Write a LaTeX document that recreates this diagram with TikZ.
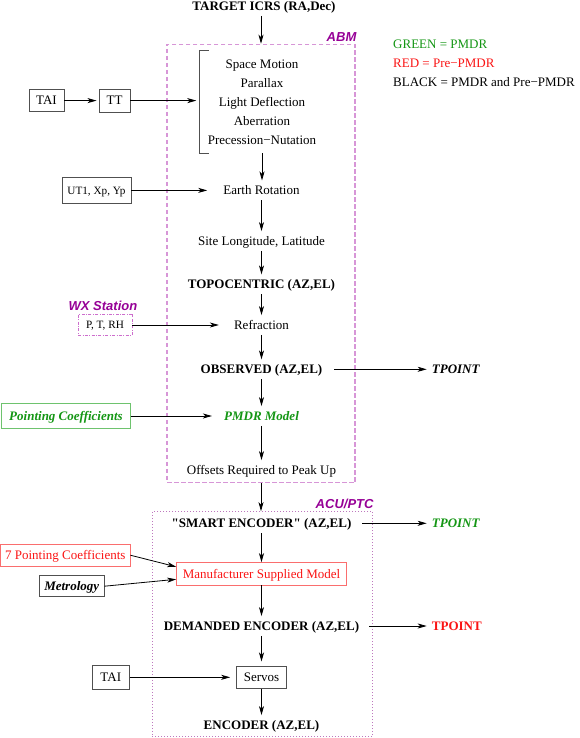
\documentclass[tikz,border=0pt]{standalone}
\usepackage{fontspec}
\setmainfont[Ligatures=TeXOff]{Liberation Serif}
\setsansfont{Liberation Sans}
\usetikzlibrary{arrows.meta}
\definecolor{pgreen}{RGB}{20,150,20}
\definecolor{pgreenbd}{RGB}{110,195,110}
\definecolor{pred}{RGB}{250,20,20}
\definecolor{predbd}{RGB}{250,110,110}
\definecolor{ppurple}{RGB}{150,0,150}
\definecolor{abmcol}{RGB}{215,150,215}
\definecolor{acucol}{RGB}{190,120,190}
\definecolor{ptcol}{RGB}{205,110,205}
\definecolor{boxcol}{RGB}{80,80,80}
\newcommand\nf{\fontsize{13}{19}\selectfont}
\newcommand\smf{\fontsize{11.2}{13}\selectfont}
\begin{document}
\begin{tikzpicture}[x=1pt,y=-1pt,
 every node/.style={font=\nf},
 txt/.style={inner xsep=3pt, inner ysep=5.4pt, text height=8.6pt, text depth=0pt},
 bold/.style={font=\nf\bfseries},
 bolditalic/.style={font=\nf\bfseries\itshape},
 bx/.style={draw=boxcol, line width=0.9pt, inner sep=0pt, text height=8.6pt, text depth=0pt},
 smallbx/.style={bx, font=\smf, text height=7.4pt},
 arr/.style={-{Stealth[length=9pt,width=5pt,inset=2.5pt]}, line width=0.8pt},
 lab/.style={font=\sffamily\bfseries\itshape\fontsize{13}{15}\selectfont, text=ppurple, inner sep=0pt},
 legend/.style={anchor=base west, inner sep=0pt},
 tpoint/.style={txt, anchor=west, inner xsep=0pt}
]
\useasboundingbox (0,0) rectangle (580,738);

% group frames
\node[draw=abmcol, line width=1.1pt, dash pattern=on 4.5pt off 2.5pt, minimum width=188pt, minimum height=438.4pt, inner sep=0pt] (abm) at (261,263.5) {};
\node[draw=acucol, line width=1pt, dash pattern=on 1pt off 2pt, minimum width=220.4pt, minimum height=225pt, inner sep=0pt] (acu) at (262.5,624.2) {};
\node[lab, anchor=base east] (abmlab) at ([xshift=1pt,yshift=2.3pt]abm.north east) {ABM};
\node[lab, anchor=base east] (aculab) at ([xshift=0.5pt,yshift=3pt]acu.north east) {ACU/PTC};

% legend
\node[legend, text=pgreen] (lg1) at (393,48.3) {GREEN = PMDR};
\node[legend, text=pred] (lg2) at (393,67.3) {RED = Pre−PMDR};
\node[legend] (lg3) at (393,86.3) {BLACK = PMDR and Pre−PMDR};

% top
\node[txt, bold] (target) at (264,6) {TARGET ICRS (RA,Dec)};
\draw[arr] (abm.north |- target.south) -- (abm.north);

\node[align=center, inner sep=0pt, minimum width=125pt, minimum height=102.3pt] (cel) at (262,101.9)
  {Space Motion\\Parallax\\Light Deflection\\Aberration\\Precession−Nutation};
\draw[line width=0.9pt, draw=boxcol] ([xshift=9.5pt]cel.north west) -- (cel.north west) -- (cel.south west) -- ([xshift=9.5pt]cel.south west);

\node[bx, minimum width=35pt, minimum height=22pt] (tai1) at (46.5,100.6) {TAI};
\node[bx, minimum width=31pt, minimum height=23pt] (tt) at (114.5,100.6) {TT};
\draw[arr, shorten >=2pt] (tai1) -- (tt);
\draw[arr, shorten >=3pt] (tt.east) -- (tt.east -| cel.west);

% main column
\node[txt] (earth) at (261.5,190.4) {Earth Rotation};
\node[smallbx, minimum width=69pt, minimum height=26pt] (ut1) at (96.5,190.4) {UT1, Xp, Yp};
\draw[arr] (cel.south) -- (cel.south |- earth.north);
\draw[arr, shorten >=13pt] (ut1) -- (earth);

\node[txt] (site) at (261.5,241) {Site Longitude, Latitude};
\draw[arr] (earth) -- (site);

\node[txt, bold] (topo) at (261.5,284.3) {TOPOCENTRIC (AZ,EL)};
\draw[arr] (site) -- (topo);

\node[lab, anchor=base] (wx) at (103,310.3) {WX Station};
\node[smallbx, draw=ptcol, line width=0.8pt, dash pattern=on 3pt off 1.5pt on 0.8pt off 1.5pt, minimum width=54pt, minimum height=21pt] (ptrh) at (105,325) {P, T, RH};
\node[txt] (refr) at (261.5,325) {Refraction};
\draw[arr] (topo) -- (refr);
\draw[arr, shorten >=12pt] (ptrh) -- (refr);

\node[txt, bold] (obs) at (261.5,369.3) {OBSERVED (AZ,EL)};
\node[tpoint, bolditalic] (tp1) at (431.7,369.3) {TPOINT};
\draw[arr] (refr) -- (obs);
\draw[arr, shorten <=8.6pt, shorten >=5pt] (obs) -- (tp1);

\node[txt, bolditalic, text=pgreen] (pmdr) at (261.5,416) {PMDR Model};
\node[bx, draw=pgreenbd, text=pgreen, bolditalic, minimum width=128.3pt, minimum height=24.4pt] (pc) at (66,416) {Pointing Coefficients};
\draw[arr] (obs) -- (pmdr);
\draw[arr, shorten >=9pt] (pc) -- (pmdr);

\node[txt] (offsets) at (261.5,470) {Offsets Required to Peak Up};
\draw[arr] (pmdr) -- (offsets);
\draw[arr] (abm.south) -- (abm.south |- acu.north);

% ACU/PTC part
\node[txt, bold] (smart) at (261.5,523.3) {"SMART ENCODER" (AZ,EL)};
\node[tpoint, bolditalic, text=pgreen] (tp2) at (431.7,523.3) {TPOINT};
\draw[arr, shorten <=7.7pt, shorten >=5pt] (smart) -- (tp2);

\node[bx, draw=predbd, text=pred, minimum width=169.7pt, minimum height=22.3pt] (manuf) at (261.5,573.8) {Manufacturer Supplied Model};
\draw[arr] (smart) -- (manuf);
\node[bx, draw=predbd, text=pred, minimum width=129.3pt, minimum height=21.7pt] (pc7) at (65.3,555.2) {7 Pointing Coefficients};
\node[bx, bolditalic, minimum width=64.7pt, minimum height=21pt] (metro) at (71.7,586.2) {Metrology};
\draw[arr] (pc7.east) -- ([yshift=7pt]manuf.west);
\draw[arr] (metro.east) -- ([yshift=-5.5pt]manuf.west);

\node[txt, bold] (dem) at (261.5,626) {DEMANDED ENCODER (AZ,EL)};
\node[tpoint, bold, text=pred] (tp3) at (431.7,626) {TPOINT};
\draw[arr] (manuf) -- (dem);
\draw[arr, shorten <=7pt, shorten >=5pt] (dem) -- (tp3);

\node[bx, minimum width=49.7pt, minimum height=22.7pt] (servos) at (261.5,677.3) {Servos};
\node[bx, minimum width=37pt, minimum height=23.7pt] (tai2) at (110.8,677.3) {TAI};
\draw[arr, shorten >=4pt] (dem) -- (servos);
\draw[arr, shorten >=6pt] (tai2) -- (servos);

\node[txt, bold] (enc) at (261.5,725) {ENCODER (AZ,EL)};
\draw[arr] (servos) -- (enc);
\end{tikzpicture}
\end{document}
